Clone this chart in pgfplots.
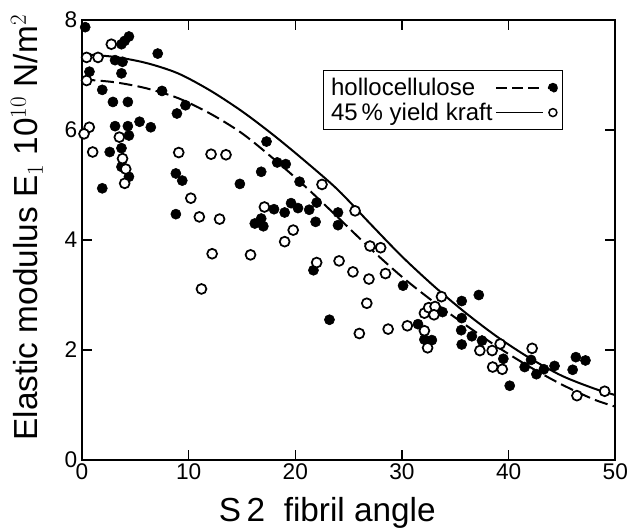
\documentclass[border=0pt]{standalone}
\usepackage{fontspec}
\setmainfont{Liberation Sans}
\usepackage{pgfplots}
\pgfplotsset{compat=1.18}
\begin{document}
\begin{tikzpicture}
\path[use as bounding box] (-61.5pt,-51pt) rectangle (412.5pt,345pt);
\begin{axis}[
  name=ax, at={(0,0)}, anchor=south west,
  width=400pt, height=330pt, scale only axis,
  xmin=0, xmax=50, ymin=0, ymax=8,
  xtick={0,10,20,30,40,50}, ytick={0,2,4,6,8},
  tick align=inside, major tick length=7.5pt,
  axis line style={line width=1.5pt},
  every tick/.style={line width=1.2pt, black},
  /pgf/number format/assume math mode=true,
  ticklabel style={font=\fontsize{17}{19}\selectfont},
  xticklabel style={yshift=1pt},
  xlabel={S\,2\ \ fibril\ angle},
  ylabel={Elastic modulus E$_1$ 10$^{10}$ N/m$^2$},
  label style={font=\fontsize{25}{27}\selectfont},
  xlabel style={at={(axis description cs:0.46,-0.139)}, anchor=base},
  ylabel style={at={(axis description cs:-0.0825,0.528)}, anchor=base},
  legend style={at={(0.452,0.886)}, anchor=north west, draw=black, line width=1pt,
    font=\fontsize{18}{20}\selectfont, inner sep=3.5pt, row sep=0pt,
    /tikz/every even column/.style={column sep=0pt}},
  legend plot pos=right,
  legend cell align=left,
]
\addplot[black, line width=1.5pt, dash pattern=on 10pt off 4pt, smooth,
  legend image code/.code={\draw[line width=1.3pt, dash pattern=on 8pt off 4pt] (0cm,0cm) -- (1.2cm,0cm);
    \fill (1.5cm,0cm) circle (3pt);}]
coordinates {(0,6.92) (3,6.87) (6,6.76) (9,6.58) (12,6.3) (15,5.94) (18,5.47) (21,4.96) (24,4.41) (27,3.85) (30,3.33) (33,2.87) (36,2.45) (39,2.05) (42,1.69) (45,1.37) (48,1.1) (50,0.97)};
\addlegendentry{hollocellulose}
\addplot[black, line width=1.5pt, smooth,
  legend image code/.code={\draw[line width=1.3pt] (0cm,0cm) -- (1.25cm,0cm);
    \draw[line width=1.1pt, fill=white] (1.5cm,0cm) circle (3pt);}]
coordinates {(0,7.38) (3,7.33) (6,7.22) (9,7.03) (12,6.72) (15,6.34) (18,5.9) (21,5.42) (24,4.91) (27,4.3) (30,3.7) (33,3.16) (36,2.67) (39,2.23) (42,1.85) (45,1.53) (48,1.3) (50,1.18)};
\addlegendentry{45\,\% yield kraft}
% hollocellulose (filled)
\addplot[only marks, forget plot, mark=*, mark size=3.8pt, mark options={fill=black, draw=black}]
coordinates {(0.3,7.87) (4.4,7.7) (4.0,7.62) (3.7,7.56) (7.1,7.39) (3.1,7.27) (3.8,7.24) (3.7,7.03) (0.7,7.06)
(1.9,6.73) (7.5,6.71) (2.9,6.51) (4.3,6.51) (9.7,6.45) (8.9,6.3) (5.4,6.15) (6.45,6.05) (3.1,6.07) (4.3,6.07)
(4.4,5.9) (3.7,5.67) (2.6,5.6) (3.7,5.33) (4.4,5.15) (1.9,4.94) (8.8,5.21) (9.4,5.08) (14.8,5.02) (16.8,5.24)
(17.3,5.79) (18.3,5.41) (19.1,5.38) (20.4,5.06) (8.8,4.47) (16.2,4.3) (17.0,4.25) (16.8,4.39) (18.0,4.56)
(19.0,4.5) (19.6,4.67) (20.25,4.58) (21.3,4.55) (22.0,4.68) (21.9,4.33) (24.0,4.5) (24.0,4.27) (21.7,3.45)
(30.1,3.17) (23.2,2.55) (31.5,2.47) (33.8,2.69) (32.1,2.19) (32.8,2.18) (35.6,2.89) (37.2,3.0) (35.6,2.58)
(35.55,2.36) (35.6,2.1) (36.55,2.25) (37.5,2.17) (39.5,1.84) (40.1,1.35) (42.1,1.82) (41.5,1.69) (42.6,1.56)
(43.3,1.65) (44.3,1.71) (46.3,1.87) (47.2,1.81) (46.0,1.64)};
% 45% yield kraft (open)
\addplot[only marks, forget plot, mark=*, mark size=3.7pt, mark options={fill=white, draw=black, line width=1.3pt}]
coordinates {(2.75,7.56) (0.43,7.32) (1.5,7.32) (0.43,6.9) (0.68,6.05) (0.19,5.93) (1.0,5.6) (3.5,5.87) (3.8,5.48)
(4.1,5.29) (4.0,5.03) (9.07,5.59) (12.1,5.56) (13.5,5.55) (10.2,4.76) (17.1,4.6) (22.5,5.01) (11.0,4.42)
(12.9,4.38) (12.2,3.75) (15.8,3.73) (11.2,3.11) (19.8,4.18) (19.0,3.97) (25.6,4.53) (27.0,3.89) (28.0,3.86)
(22.0,3.59) (24.1,3.62) (25.4,3.42) (26.9,3.29) (28.45,3.39) (26.7,2.85) (26.0,2.3) (28.7,2.38) (30.5,2.44)
(32.1,2.67) (32.5,2.77) (33.1,2.79) (33.7,2.97) (33.0,2.64) (32.1,2.35) (32.4,2.04) (37.3,1.99) (39.2,2.11)
(38.45,1.99) (38.5,1.69) (39.4,1.65) (42.2,2.03) (46.4,1.17) (49.0,1.25)};
\end{axis}
\end{tikzpicture}
\end{document}
